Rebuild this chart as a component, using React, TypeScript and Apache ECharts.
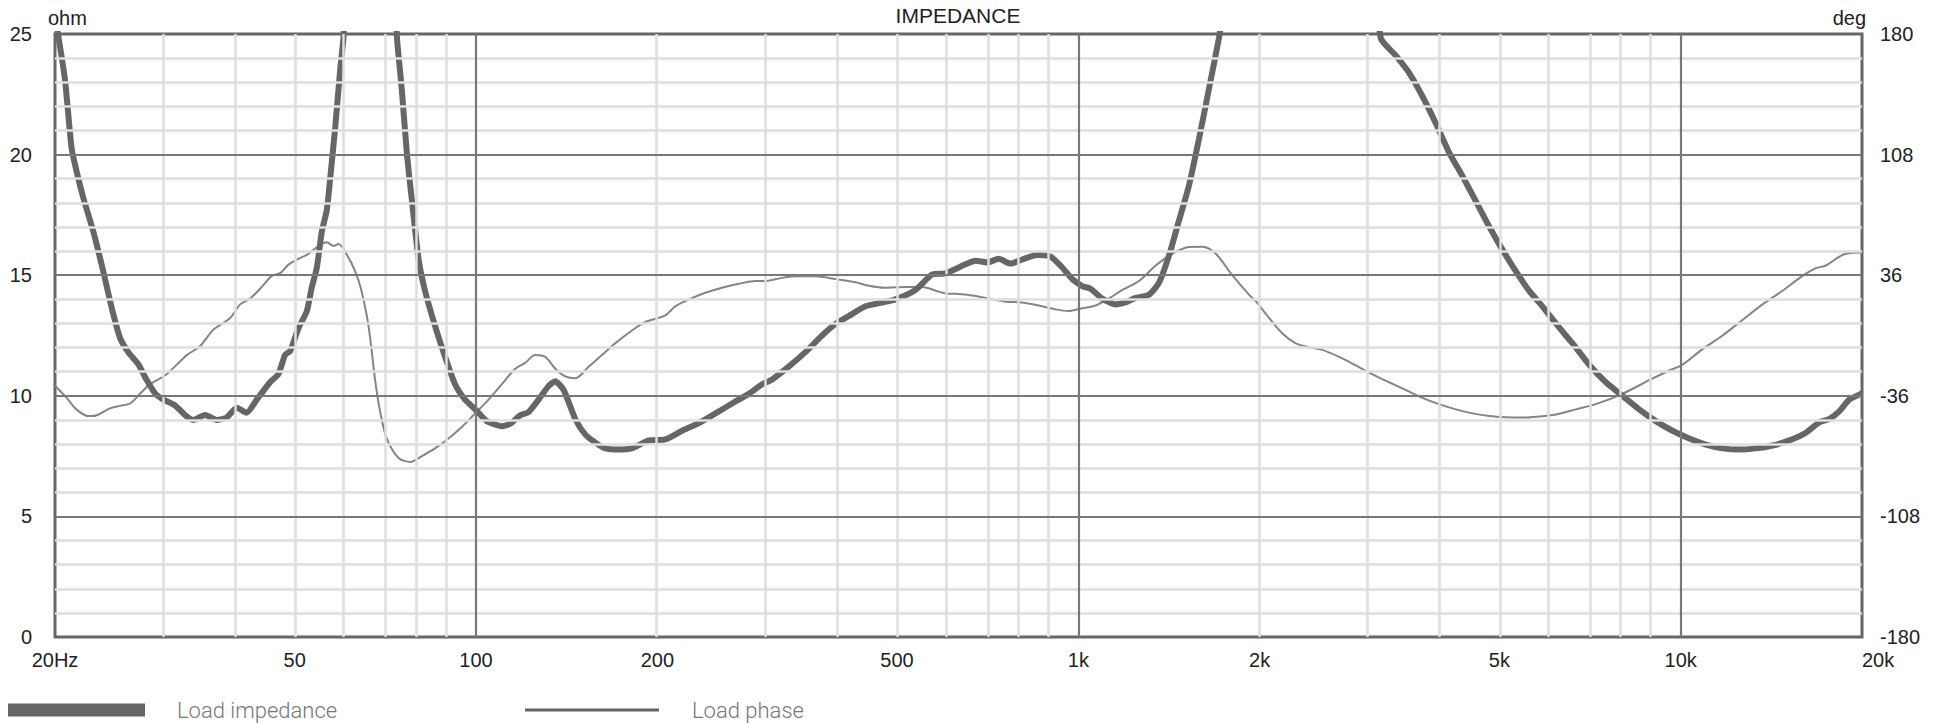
import React, { useEffect, useRef } from "react";
import * as echarts from "echarts";

// ---- Data (frequency in Hz) ----
const impedanceFreq = [
  20, 20.26, 20.78, 21.3, 21.7, 22.29, 23.16, 24.03, 24.81, 25.64, 26.48, 27.51, 28.4, 29.32,
  30.27, 31.65, 32.88, 33.95, 35.5, 37.12, 38.56, 40.06, 41.62, 43.24, 45.51, 46.98, 48.2,
  49.13, 50.72, 52.36, 53.38, 54.41, 55.46, 56.53, 57.26, 58.36, 59.49, 60.26, 67, 73.9, 75.3,
  76.8, 78.3, 80.3, 82.3, 85.5, 88.9, 92.3, 95.9, 99.7, 104.2, 110.4, 114, 118.4, 122.2, 127,
  131.9, 135.4, 139.8, 146.2, 151.9, 157.8, 163.9, 172.5, 181.5, 193.4, 206.2, 219.8, 234.3,
  249.8, 266.1, 283.6, 298.6, 310.2, 330.5, 352.2, 375.4, 395.3, 415.9, 443.3, 472.4, 497,
  536.5, 572, 601.8, 649.6, 674.9, 705.7, 737.9, 771.6, 806.8, 854.4, 899.2, 940.2, 976.8,
  1014.8, 1047.7, 1095.5, 1152.9, 1197.8, 1244.5, 1309.7, 1360.7, 1414, 1469, 1526, 1586,
  1648, 1712, 2400, 3177, 3364, 3541, 3726, 3923, 4127, 4342, 4572, 4809, 5061, 5327, 5605,
  5898, 6205, 6446, 6612, 7048, 7512, 8006, 8533, 9095, 9693, 10332, 11011, 11736, 12508,
  13332, 14209, 15144, 16141, 16985, 17644, 18329, 19044, 19912, 20000,
];
const impedanceOhm = [
  25.7, 24.9, 23.1, 20.3, 19.35, 18.2, 16.8, 15.2, 13.7, 12.4, 11.8, 11.3, 10.65, 10.1,
  9.84, 9.6, 9.2, 9.0, 9.2, 9.0, 9.1, 9.5, 9.3, 9.84, 10.56, 10.9, 11.7,
  11.85, 12.8, 13.5, 14.5, 15.3, 16.8, 17.7, 19.0, 21.1, 23.5, 24.9, 45, 24.9, 22.7,
  20.0, 18.06, 15.65, 14.35, 12.9, 11.6, 10.48, 9.84, 9.44, 8.95, 8.74, 8.84, 9.19, 9.32, 9.84,
  10.4, 10.6, 10.24, 9.03, 8.39, 8.06, 7.82, 7.77, 7.82, 8.15, 8.19, 8.55, 8.87,
  9.27, 9.68, 10.08, 10.48, 10.68, 11.21, 11.81, 12.5, 12.98, 13.31, 13.71, 13.87, 14.0,
  14.39, 15.03, 15.08, 15.45, 15.6, 15.53, 15.68, 15.48, 15.65, 15.84, 15.77, 15.32, 14.84,
  14.55, 14.44, 14.03, 13.79, 13.87, 14.06, 14.19, 14.68, 15.81, 17.26, 18.71, 20.65,
  22.74, 24.84, 45, 24.84, 24.11, 23.39, 22.42, 21.29, 20.08, 19.11, 18.06, 17.02, 16.05, 15.16, 14.35,
  13.7, 13.0, 12.5, 12.18, 11.29, 10.56, 10.0, 9.44, 8.95, 8.55, 8.23, 7.98, 7.82, 7.77,
  7.82, 7.94, 8.15, 8.47, 8.9, 9.03, 9.35, 9.84, 10.08, 10.1,
];
const phaseFreq = [
  20, 20.91, 21.7, 22.71, 23.46, 24.67, 25.64, 26.65, 27.68, 28.76, 30.46, 31.86, 33.1, 34.83,
  36.65, 39.07, 40.59, 42.17, 43.81, 45.81, 47.29, 48.83, 50.72, 52.36, 54.41, 56.53, 58.0,
  59.11, 61.42, 63.0, 64.4, 66.3, 68.0, 69.3, 71.1, 74.4, 77.8, 81.3, 85.5, 90, 94.7, 99.7,
  104.9, 110.4, 116.2, 120.7, 125.4, 130.3, 135.4, 140.7, 146.2, 153.8, 161.8, 170.2, 181.5,
  191, 198.5, 206.2, 214.2, 225.4, 240.2, 256, 272.9, 290.9, 302.2, 322.2, 343.4, 366.1,
  395.3, 426.6, 449, 478.5, 516.4, 550.4, 586.6, 609.4, 625.6, 666.5, 710.2, 757, 806.8,
  859.9, 916.6, 964.6, 1014.8, 1068, 1124, 1183, 1261, 1344, 1432, 1526, 1607, 1691, 1801,
  1920, 1970, 2073, 2182, 2296, 2416, 2541, 2710, 2888, 3079, 3279, 3496, 3726, 3971, 4233,
  4513, 4809, 5126, 5464, 5823, 6205, 6697, 7229, 8006, 8865, 9568, 10074, 10875, 11736,
  12668, 13674, 14760, 15933, 16768, 17421, 18099, 18803, 20000,
];
const phaseDeg = [
  -30, -37.2, -44.1, -48.1, -47.6, -43.5, -42.0, -40.6, -34.8, -29.0, -23.9, -17.4, -11.7, -6.3,
  3.5, 10.5, 18.6, 22.1, 27.9, 35.6, 37.2, 42.3, 45.8, 48.1, 52.7, 55.7, 53.4,
  54.6, 46.5, 38.3, 28, 5.8, -26.7, -45.3, -61.5, -73.1, -75.5, -72.0, -67.4, -61.5, -54.6, -46.5,
  -38.3, -29.0, -19.8, -16.3, -11.7, -12.8, -19.8, -24.4, -25.5, -18.6, -11.7, -4.7, 3.0,
  8.1, 10.0, 12.0, 17.4, 21.4, 25.5, 28.5, 30.9, 32.5, 32.5, 34.4, 35.3, 35.3,
  33.7, 31.8, 29.7, 28.5, 29.0, 29.0, 26.2, 24.9, 25.0, 23.9, 22.1, 20.2, 19.7,
  17.9, 15.6, 14.6, 16.3, 17.9, 22.1, 27.2, 32.5, 41.8, 48.8, 52.9, 53.0, 48.8, 36.0,
  24.4, 20.5, 10.5, 1.2, -4.7, -7.0, -8.6, -12.8, -17.9, -23.2, -27.9, -32.5, -37.2, -41.0, -44.1,
  -46.5, -48.1, -48.8, -49.0, -48.3, -47.2, -44.1, -41.0, -34.8, -26.7, -20.9, -17.4, -8.1, 0,
  9.3, 18.6, 26.7, 35.6, 40.2, 41.8, 45.8, 48.8, 49.5,
];

const xTickHz = [20, 50, 100, 200, 500, 1000, 2000, 5000, 10000, 20000];
const xTickLabels = ["20Hz", "50", "100", "200", "500", "1k", "2k", "5k", "10k", "20k"];
const minorGridHz = [
  30, 40, 50, 60, 70, 80, 90, 200, 300, 400, 500, 600, 700, 800, 900,
  2000, 3000, 4000, 5000, 6000, 7000, 8000, 9000,
];
const majorGridHz = [100, 1000, 10000];
const minorGridOhm = [1, 2, 3, 4, 6, 7, 8, 9, 11, 12, 13, 14, 16, 17, 18, 19, 21, 22, 23, 24];
const majorGridOhm = [5, 10, 15, 20];
const degTicks = [-180, -108, -36, 36, 108, 180];

const lg = (v: number) => Math.log10(v);
const FONT = "'Liberation Sans', Arial, sans-serif";

export default function App() {
  const ref = useRef<HTMLDivElement>(null);

  useEffect(() => {
    if (!ref.current) return;
    const chart = echarts.init(ref.current, undefined, { renderer: "svg" });
    const xTickLg = xTickHz.map(lg);

    const option: any = {
      animation: false,
      backgroundColor: "#ffffff",
      title: {
        text: "IMPEDANCE",
        left: 958,
        top: 5,
        textAlign: "center",
        padding: 0,
        textStyle: { fontSize: 21, fontWeight: "normal", color: "#222", fontFamily: FONT },
      },
      graphic: [
        {
          type: "text",
          left: 48,
          top: 8,
          style: { text: "ohm", fontSize: 20, fill: "#222", fontFamily: FONT },
        },
        {
          type: "text",
          right: 80,
          top: 8,
          style: { text: "deg", fontSize: 20, fill: "#222", fontFamily: FONT },
        },
      ],
      legend: [
        {
          left: 8,
          top: 699,
          padding: 0,
          selectedMode: false,
          itemWidth: 137,
          itemHeight: 13,
          data: [{ name: "Load impedance", icon: "rect", itemStyle: { color: "#666" } }],
          textStyle: {
            fontSize: 22,
            color: "#777",
            fontFamily: "Roboto",
            fontWeight: 300,
            padding: [0, 0, 0, 27],
          },
        },
        {
          left: 525,
          top: 699,
          padding: 0,
          selectedMode: false,
          itemWidth: 134,
          itemHeight: 3,
          data: [{ name: "Load phase", icon: "rect", itemStyle: { color: "#666" } }],
          textStyle: {
            fontSize: 22,
            color: "#777",
            fontFamily: "Roboto",
            fontWeight: 300,
            padding: [0, 0, 0, 28],
          },
        },
      ],
      grid: {
        left: 55,
        right: 84,
        top: 34,
        bottom: 87,
        show: true,
        borderColor: "#666",
        borderWidth: 3,
        backgroundColor: "#fff",
      },
      xAxis: {
        type: "value",
        min: lg(20),
        max: lg(20000),
        axisLine: { show: false },
        axisTick: { show: false },
        splitLine: { show: false },
        axisLabel: {
          customValues: xTickLg,
          formatter: (v: number) => {
            const i = xTickLg.findIndex((t) => Math.abs(t - v) < 1e-6);
            return i >= 0 ? xTickLabels[i] : "";
          },
          fontSize: 20,
          color: "#222",
          fontFamily: FONT,
          margin: 13,
          alignMaxLabel: "left",
        },
      },
      yAxis: [
        {
          type: "value",
          min: 0,
          max: 25,
          interval: 5,
          position: "left",
          axisLine: { show: false },
          axisTick: { show: false },
          splitLine: { show: false },
          axisLabel: { fontSize: 20, color: "#222", fontFamily: FONT, margin: 23 },
        },
        {
          type: "value",
          min: -180,
          max: 180,
          position: "right",
          axisLine: { show: false },
          axisTick: { show: false },
          splitLine: { show: false },
          axisLabel: {
            customValues: degTicks,
            fontSize: 20,
            color: "#222",
            fontFamily: FONT,
            margin: 18,
          },
        },
      ],
      series: [
        {
          name: "minorGrid",
          type: "line",
          data: [],
          silent: true,
          z: 1,
          markLine: {
            silent: true,
            symbol: ["none", "none"],
            label: { show: false },
            lineStyle: { color: "#dedede", width: 2.5, type: "solid" },
            emphasis: { disabled: true },
            data: [
              ...minorGridHz.map((f) => ({ xAxis: lg(f) })),
              ...minorGridOhm.map((o) => ({ yAxis: o })),
            ],
          },
        },
        {
          name: "majorGrid",
          type: "line",
          data: [],
          silent: true,
          z: 2,
          markLine: {
            silent: true,
            symbol: ["none", "none"],
            label: { show: false },
            lineStyle: { color: "#787878", width: 2.2, type: "solid" },
            emphasis: { disabled: true },
            data: [
              ...majorGridOhm.map((o) => ({ yAxis: o })),
              ...majorGridHz.map((f) => ({ xAxis: lg(f) })),
            ],
          },
        },
        {
          name: "Load phase",
          type: "line",
          yAxisIndex: 1,
          z: 3,
          symbol: "none",
          showSymbol: false,
          smooth: 0.3,
          itemStyle: { color: "#666" },
          lineStyle: { color: "#858585", width: 2 },
          data: phaseFreq.map((f, i) => [lg(f), phaseDeg[i]]),
        },
        {
          name: "Load impedance",
          type: "line",
          yAxisIndex: 0,
          z: 4,
          symbol: "none",
          showSymbol: false,
          smooth: 0.2,
          itemStyle: { color: "#666" },
          lineStyle: { color: "#666", width: 6 },
          data: impedanceFreq.map((f, i) => [lg(f), impedanceOhm[i]]),
        },
      ],
    };

    chart.setOption(option);
    return () => chart.dispose();
  }, []);

  return (
    <div
      ref={ref}
      style={{ position: "absolute", left: 0, top: 0, width: 1946, height: 724 }}
    />
  );
}
